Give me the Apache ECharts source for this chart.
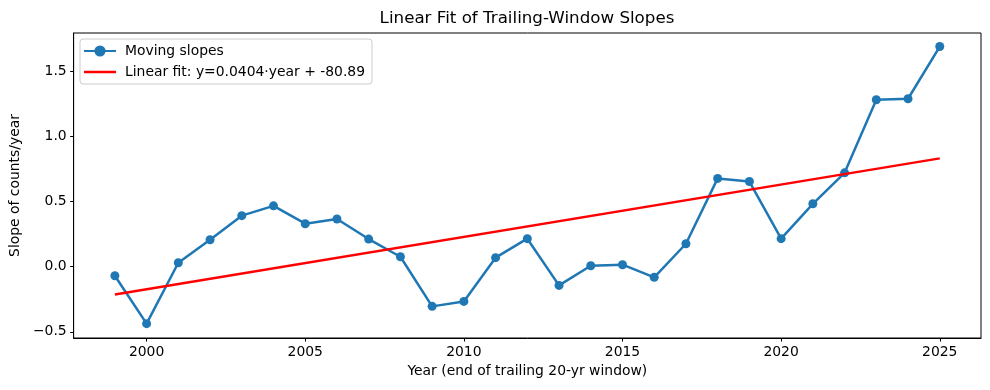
<!DOCTYPE html>
<html>
<head>
<meta charset="utf-8">
<script src="https://cdn.jsdelivr.net/npm/echarts@6/dist/echarts.min.js"></script>
<style>
html,body{margin:0;padding:0;background:#fff;}
#chart{width:990px;height:390px;}
</style>
</head>
<body>
<div id="chart"></div>
<script>
const years = [1999,2000,2001,2002,2003,2004,2005,2006,2007,2008,2009,2010,2011,2012,2013,2014,2015,2016,2017,2018,2019,2020,2021,2022,2023,2024,2025];
const slopes = [-0.070,-0.438,0.030,0.207,0.392,0.467,0.330,0.366,0.212,0.076,-0.305,-0.267,0.069,0.215,-0.144,0.007,0.015,-0.082,0.176,0.678,0.654,0.215,0.483,0.721,1.282,1.290,1.691];
const fitYears = [1999, 2025];
const fitValues = [-0.214, 0.832];
const xTicks = [2000,2005,2010,2015,2020,2025];
const yTicks = [-0.5,0,0.5,1.0,1.5];
const seriesNames = ['Moving slopes', 'Linear fit: y=0.0404\u00b7year + -80.89'];

const FONT = 'DejaVu Sans';
const fmtY = v => (v < 0 ? '\u2212' : '') + Math.abs(v).toFixed(1);

const chart = echarts.init(document.getElementById('chart'), null, {renderer:'canvas'});
chart.setOption({
  animation: false,
  backgroundColor: '#ffffff',
  textStyle: {fontFamily: FONT},
  title: {
    text: 'Linear Fit of Trailing-Window Slopes',
    left: 527, top: 10, padding: 0, textAlign: 'center',
    textStyle: {fontFamily: FONT, fontSize: 16.7, fontWeight: 'normal', color: '#000'}
  },
  legend: {
    left: 80, top: 39, orient: 'vertical',
    padding: [5, 7, 5, 3], itemGap: 7, itemWidth: 32, itemHeight: 14,
    backgroundColor: 'rgba(255,255,255,0.8)', borderColor: '#cccccc', borderWidth: 1, borderRadius: 3,
    textStyle: {fontFamily: FONT, fontSize: 13.9, color: '#000', padding: [0,0,0,4]},
    data: [
      {name: seriesNames[0]},
      {name: seriesNames[1], icon: 'path://M0,0L64,0L64,5L0,5Z', itemStyle: {color: '#ff0000', borderWidth: 0}}
    ]
  },
  grid: {left: 73, right: 9, top: 33, bottom: 52, show: true, borderColor: '#000', borderWidth: 1, backgroundColor: 'transparent'},
  xAxis: {
    type: 'value', min: 1997.7, max: 2026.3,
    name: 'Year (end of trailing 20-yr window)', nameLocation: 'middle', nameGap: 26,
    nameTextStyle: {fontFamily: FONT, fontSize: 13.9, color: '#000'},
    axisLine: {show: true, onZero: false, lineStyle: {color: '#000', width: 1}},
    axisTick: {show: true, length: 3.5, customValues: xTicks, lineStyle: {color: '#000'}},
    axisLabel: {customValues: xTicks, margin: 7, fontFamily: FONT, fontSize: 13.9, color: '#000', formatter: v => String(v)},
    splitLine: {show: false}
  },
  yAxis: {
    type: 'value', min: -0.548, max: 1.795,
    name: 'Slope of counts/year', nameLocation: 'middle', nameGap: 50,
    nameTextStyle: {fontFamily: FONT, fontSize: 13.9, color: '#000'},
    axisLine: {show: true, onZero: false, lineStyle: {color: '#000', width: 1}},
    axisTick: {show: true, length: 3.5, customValues: yTicks, lineStyle: {color: '#000'}},
    axisLabel: {customValues: yTicks, margin: 7, fontFamily: FONT, fontSize: 13.9, color: '#000', formatter: fmtY},
    splitLine: {show: false}
  },
  series: [
    {
      name: seriesNames[0], type: 'line',
      data: years.map((y, i) => [y, slopes[i]]),
      symbol: 'circle', symbolSize: 9, showSymbol: true,
      lineStyle: {color: '#1f77b4', width: 2.5},
      itemStyle: {color: '#1f77b4'},
      z: 2
    },
    {
      name: seriesNames[1], type: 'line',
      data: fitYears.map((y, i) => [y, fitValues[i]]),
      symbol: 'none',
      lineStyle: {color: '#ff0000', width: 2.5},
      itemStyle: {color: '#ff0000'},
      z: 3
    }
  ]
});
</script>
</body>
</html>
